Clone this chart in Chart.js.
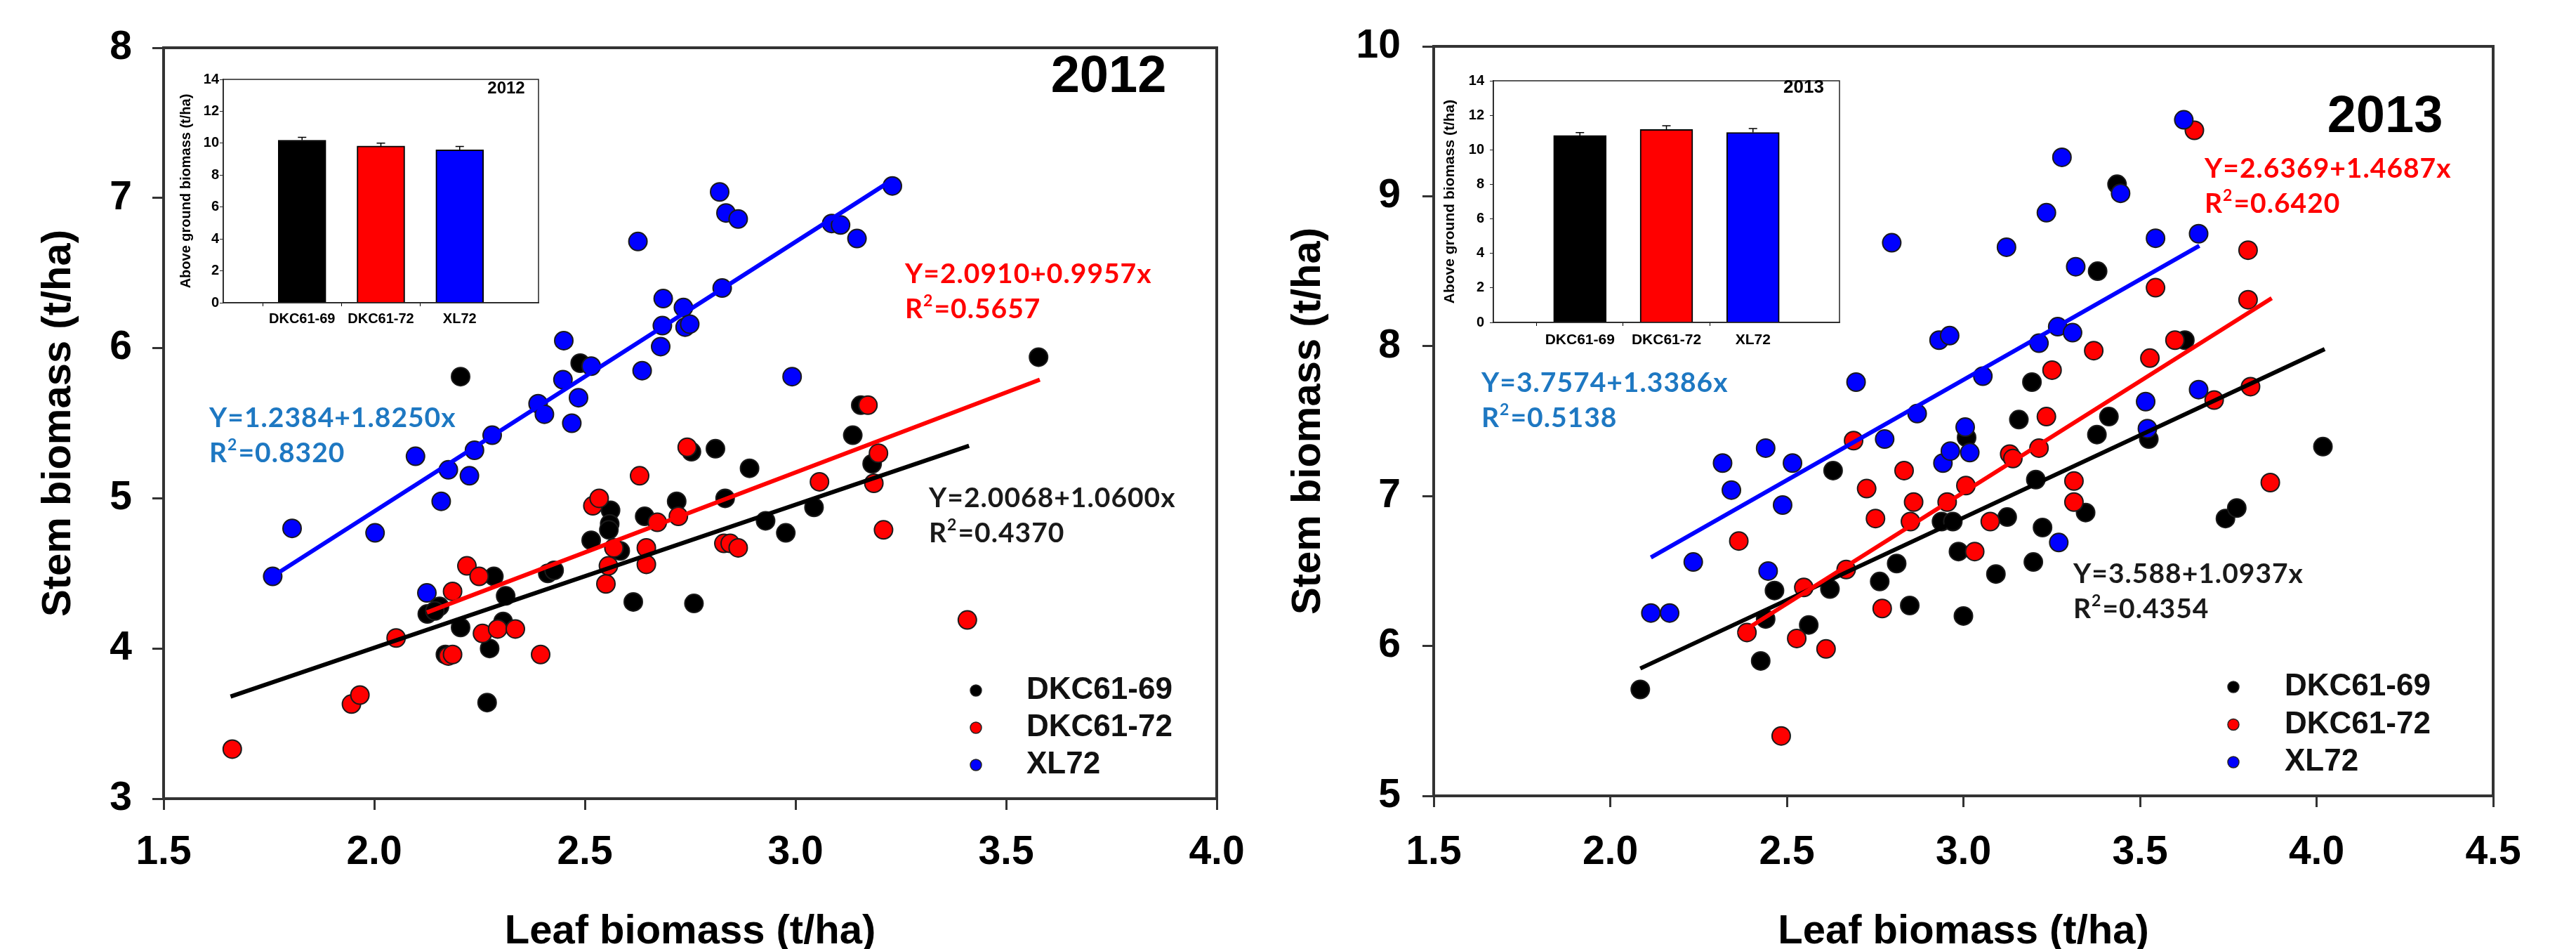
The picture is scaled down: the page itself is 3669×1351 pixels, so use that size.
<!DOCTYPE html>
<html lang="en">
<head>
  <meta charset="UTF-8">
  <title>Stem vs leaf biomass 2012 / 2013</title>
  <script src="https://cdn.jsdelivr.net/npm/chart.js@4"></script>
  <style>
    html, body { margin: 0; padding: 0; background: #fff; }
    #wrap { position: relative; width: 3669px; height: 1351px; background: #fff; overflow: hidden; }
    #wrap canvas { position: absolute; }
  </style>
</head>
<body>
<div id="wrap">
  <canvas id="main2012" width="1800" height="1351" style="left:0;top:0"></canvas>
  <canvas id="main2013" width="1869" height="1351" style="left:1800px;top:0"></canvas>
  <canvas id="inset2012" width="540" height="380" style="left:240px;top:100px"></canvas>
  <canvas id="inset2013" width="600" height="420" style="left:2040px;top:95px"></canvas>
</div>
<script>
// ---- data -------------------------------------------------------------
const cultivars = ['DKC61-69', 'DKC61-72', 'XL72'];

// 2012, leaf biomass (x) and stem biomass (y), t/ha
const leaf2012_69 = [3.577, 2.205, 2.489, 3.155, 3.136, 2.810, 2.753, 2.891, 3.182, 2.561, 2.559, 2.557, 2.642, 2.718, 2.833, 2.515, 2.929, 2.977, 3.044, 2.584, 2.412, 2.427, 2.284, 2.312, 2.615, 2.759, 2.126, 2.155, 2.144, 2.205, 2.306, 2.169, 2.274, 2.268];
const stem2012_69 = [5.94, 5.81, 5.90, 5.62, 5.42, 5.33, 5.31, 5.20, 5.23, 4.92, 4.83, 4.79, 4.88, 4.98, 5.00, 4.72, 4.85, 4.77, 4.94, 4.65, 4.50, 4.52, 4.48, 4.35, 4.31, 4.30, 4.23, 4.28, 4.25, 4.14, 4.18, 3.96, 4.00, 3.64];
const leaf2012_72 = [1.663, 1.946, 1.966, 2.052, 2.186, 2.220, 2.249, 2.257, 2.293, 2.335, 2.176, 2.186, 2.395, 2.519, 2.534, 2.550, 2.556, 2.569, 2.630, 2.646, 2.646, 2.672, 2.722, 2.743, 2.830, 2.845, 2.864, 3.057, 3.172, 3.197, 3.186, 3.209, 3.408];
const stem2012_72 = [3.33, 3.63, 3.69, 4.07, 4.38, 4.55, 4.48, 4.10, 4.13, 4.13, 3.95, 3.96, 3.96, 4.95, 5.00, 4.43, 4.55, 4.67, 5.15, 4.67, 4.56, 4.84, 4.88, 5.34, 4.70, 4.70, 4.67, 5.11, 5.62, 5.30, 5.10, 4.79, 4.19];
const leaf2012_xl = [1.759, 1.805, 2.002, 2.098, 2.125, 2.159, 2.176, 2.226, 2.238, 2.280, 2.389, 2.404, 2.450, 2.448, 2.469, 2.485, 2.515, 2.626, 2.636, 2.680, 2.684, 2.686, 2.734, 2.738, 2.749, 2.826, 2.820, 2.835, 2.864, 2.992, 3.086, 3.107, 3.146, 3.230];
const stem2012_xl = [4.48, 4.80, 4.77, 5.28, 4.37, 4.98, 5.19, 5.15, 5.32, 5.42, 5.63, 5.56, 6.05, 5.79, 5.50, 5.67, 5.88, 6.71, 5.85, 6.01, 6.15, 6.33, 6.27, 6.14, 6.16, 6.40, 7.04, 6.90, 6.86, 5.81, 6.83, 6.82, 6.73, 7.08];

// 2013
const leaf2013_69 = [2.085, 2.426, 2.440, 2.465, 2.562, 2.622, 2.631, 2.763, 2.811, 2.848, 2.938, 2.970, 2.986, 3.000, 3.009, 3.092, 3.124, 3.157, 3.194, 3.198, 3.205, 3.224, 3.346, 3.378, 3.380, 3.412, 3.435, 3.525, 3.627, 3.742, 3.774, 4.018];
const stem2013_69 = [5.71, 5.90, 6.18, 6.37, 6.14, 6.38, 7.17, 6.43, 6.55, 6.27, 6.83, 6.83, 6.63, 6.20, 7.39, 6.48, 6.86, 7.51, 7.76, 6.56, 7.11, 6.79, 6.89, 7.41, 8.50, 7.53, 9.08, 7.38, 8.04, 6.85, 6.92, 7.33];
const leaf2013_72 = [2.484, 2.364, 2.387, 2.528, 2.548, 2.611, 2.668, 2.689, 2.726, 2.751, 2.770, 2.832, 2.850, 2.859, 2.954, 3.007, 3.032, 3.076, 3.131, 3.140, 3.214, 3.235, 3.251, 3.313, 3.313, 3.369, 3.528, 3.544, 3.599, 3.654, 3.710, 3.806, 3.806, 3.813, 3.869];
const stem2013_72 = [5.40, 6.70, 6.09, 6.05, 6.39, 5.98, 6.51, 7.37, 7.05, 6.85, 6.25, 7.17, 6.83, 6.96, 6.96, 7.07, 6.63, 6.83, 7.28, 7.25, 7.32, 7.53, 7.84, 7.10, 6.96, 7.97, 7.92, 8.39, 8.04, 9.44, 7.64, 8.64, 8.31, 7.73, 7.09];
const leaf2013_xl = [2.115, 2.168, 2.235, 2.318, 2.343, 2.440, 2.447, 2.488, 2.516, 2.696, 2.777, 2.797, 2.869, 2.931, 2.961, 2.942, 2.963, 3.005, 3.018, 3.055, 3.122, 3.214, 3.235, 3.267, 3.279, 3.309, 3.318, 3.270, 3.445, 3.516, 3.521, 3.544, 3.624, 3.666, 3.666];
const stem2013_xl = [6.22, 6.22, 6.56, 7.22, 7.04, 7.32, 6.50, 6.94, 7.22, 7.76, 7.38, 8.69, 7.55, 8.04, 8.07, 7.22, 7.30, 7.46, 7.29, 7.80, 8.66, 8.02, 8.89, 8.13, 9.26, 8.09, 8.53, 6.69, 9.02, 7.63, 7.45, 8.72, 9.51, 8.75, 7.71];

// regression lines: end points as drawn in the figure (per cultivar)
const fitLeaf2012 = [[1.659, 3.412], [2.125, 3.580], [1.759, 3.230]];
const fitStem2012 = [[3.68, 5.35], [4.24, 5.79], [4.48, 7.12]];
const fitLeaf2013 = [[2.085, 4.023], [2.364, 3.873], [2.115, 3.668]];
const fitStem2013 = [[5.85, 7.98], [6.08, 8.32], [6.59, 8.67]];

const eq2012 = ['Y=2.0068+1.0600x', 'Y=2.0910+0.9957x', 'Y=1.2384+1.8250x'];
const r2_2012 = ['0.4370', '0.5657', '0.8320'];
const eq2013 = ['Y=3.588+1.0937x', 'Y=2.6369+1.4687x', 'Y=3.7574+1.3386x'];
const r2_2013 = ['0.4354', '0.6420', '0.5138'];

// inset: above ground biomass (t/ha), mean and upper error
const agb2012 = [10.19, 9.82, 9.58];
const agbErr2012 = [0.18, 0.19, 0.22];
const agb2013 = [10.83, 11.18, 11.01];
const agbErr2013 = [0.17, 0.22, 0.22];

// tick labels
const xTicks2012 = ['1.5', '2.0', '2.5', '3.0', '3.5', '4.0'];
const yTicks2012 = ['3', '4', '5', '6', '7', '8'];
const xTicks2013 = ['1.5', '2.0', '2.5', '3.0', '3.5', '4.0', '4.5'];
const yTicks2013 = ['5', '6', '7', '8', '9', '10'];
const insetTicks = ['0', '2', '4', '6', '8', '10', '12', '14'];

// ---- styling ----------------------------------------------------------
const SANS = '"Liberation Sans", Arial, sans-serif';
const EQF = 'Lato, "Liberation Sans", sans-serif';
const AXIS = '#333333';
const markColors = ['#000000', '#FF0000', '#0000FF'];
const eqColors = ['#1a1a1a', '#FF0000', '#1E78C2'];
const H = 1351;

Chart.defaults.font.family = SANS;
Chart.defaults.color = '#000';

const pts = (xs, ys) => xs.map((x, i) => ({x: x, y: ys[i]}));

// box around the plotting area
const framePlugin = {
  id: 'frame',
  afterDraw(chart, args, o) {
    const a = chart.chartArea, ctx = chart.ctx;
    ctx.save();
    ctx.strokeStyle = o.color;
    ctx.lineWidth = o.width;
    ctx.strokeRect(a.left, a.top, a.right - a.left, a.bottom - a.top);
    ctx.restore();
  }
};

function drawRich(ctx, parts, x, y, size) {
  let cx = x;
  parts.forEach(p => {
    const s = p.sup ? Math.round(size * 0.6) : size;
    ctx.font = 'bold ' + s + 'px ' + EQF;
    ctx.fillText(p.t, cx, p.sup ? y - size * 0.3 : y);
    cx += ctx.measureText(p.t).width + (p.sup ? 1 : 0);
  });
}

// equations, year tag and small legend
const notesPlugin = {
  id: 'notes',
  afterDraw(chart, args, o) {
    const ctx = chart.ctx;
    ctx.save();
    ctx.textBaseline = 'middle';
    // year
    ctx.textAlign = 'center';
    ctx.fillStyle = '#000';
    ctx.font = 'bold 74px ' + SANS;
    ctx.fillText(o.year.text, o.year.x, o.year.y);
    // equations
    ctx.textAlign = 'left';
    ctx.letterSpacing = '1px';
    o.eqPos.forEach((p, i) => {
      ctx.fillStyle = eqColors[i];
      drawRich(ctx, [{t: o.eqs[i]}], p[0], p[1], 39);
      drawRich(ctx, [{t: 'R'}, {t: '2', sup: true}, {t: '=' + o.r2[i]}], p[0], p[1] + 50, 39);
    });
    ctx.letterSpacing = '0px';
    // legend
    const L = o.legend;
    cultivars.forEach((name, i) => {
      const y = L.y + i * L.gap;
      ctx.beginPath();
      ctx.arc(L.x, y, 8, 0, Math.PI * 2);
      ctx.fillStyle = markColors[i];
      ctx.fill();
      ctx.lineWidth = 1.5;
      ctx.strokeStyle = '#222';
      ctx.stroke();
      ctx.fillStyle = '#111';
      ctx.font = 'bold 44px ' + SANS;
      ctx.fillText(name, L.textX, y);
    });
    ctx.restore();
  }
};

function mainChart(id, g) {
  const datasets = [];
  // fitted lines on top
  [2, 1, 0].forEach(i => {
    datasets.push({
      label: 'fit ' + cultivars[i],
      data: pts(g.fitX[i], g.fitY[i]),
      showLine: true, borderColor: markColors[i], borderWidth: 6,
      pointRadius: 0, fill: false, order: 0
    });
  });
  // blue on top, then red, then black
  [2, 1, 0].forEach((i, k) => {
    datasets.push({
      label: cultivars[i],
      data: pts(g.xs[i], g.ys[i]),
      backgroundColor: markColors[i], borderColor: '#1a1a1a',
      borderWidth: 2, pointRadius: 13, order: k + 1
    });
  });
  const xv = g.xTicks.map(Number), yv = g.yTicks.map(Number);
  return new Chart(document.getElementById(id), {
    type: 'scatter',
    data: {datasets: datasets},
    options: {
      responsive: false, animation: false, events: [],
      layout: {padding: {top: g.area.top, right: g.width - g.area.right, left: 0, bottom: 0}},
      plugins: {
        legend: {display: false}, tooltip: {enabled: false},
        frame: {color: AXIS, width: 4},
        notes: g.notes
      },
      scales: {
        x: {
          type: 'linear', min: xv[0], max: xv[xv.length - 1],
          afterBuildTicks: s => { s.ticks = xv.map(v => ({value: v})); },
          ticks: {
            callback: (v, i) => g.xTicks[i],
            font: {size: 57, weight: 'bold'}, color: '#000', padding: g.xPad,
            maxRotation: 0, autoSkip: false
          },
          grid: {drawOnChartArea: false, tickLength: 16, tickWidth: 3, tickColor: AXIS},
          border: {color: AXIS, width: 4},
          title: {
            display: true, text: 'Leaf biomass (t/ha)', color: '#000',
            font: {size: 58, weight: 'bold', lineHeight: 1}, padding: {top: 0, bottom: -5}
          },
          afterFit: s => { s.height = H - g.area.bottom; }
        },
        y: {
          type: 'linear', min: yv[0], max: yv[yv.length - 1],
          afterBuildTicks: s => { s.ticks = yv.map(v => ({value: v})); },
          ticks: {
            callback: (v, i) => g.yTicks[i],
            font: {size: 57, weight: 'bold'}, color: '#000', padding: g.yPad
          },
          grid: {drawOnChartArea: false, tickLength: 16, tickWidth: 3, tickColor: AXIS},
          border: {color: AXIS, width: 4},
          title: {
            display: true, text: 'Stem biomass (t/ha)', color: '#000',
            font: {size: 58, weight: 'bold', lineHeight: 1}, padding: {top: g.yTitlePad, bottom: 0}
          },
          afterFit: s => { s.width = g.area.left; }
        }
      }
    },
    plugins: [framePlugin, notesPlugin]
  });
}

// error bars for the inset
const errPlugin = {
  id: 'errbars',
  afterDatasetsDraw(chart, args, o) {
    const meta = chart.getDatasetMeta(0), ys = chart.scales.y, ctx = chart.ctx;
    const vals = chart.data.datasets[0].data;
    ctx.save();
    ctx.strokeStyle = '#000';
    ctx.lineWidth = 1.5;
    meta.data.forEach((bar, i) => {
      const v = vals[i];
      if (v == null) return;
      const top = ys.getPixelForValue(v + o.errors[i - 1]);
      ctx.beginPath();
      ctx.moveTo(bar.x, bar.y);
      ctx.lineTo(bar.x, top);
      ctx.moveTo(bar.x - o.cap, top);
      ctx.lineTo(bar.x + o.cap, top);
      ctx.stroke();
    });
    ctx.restore();
  }
};

const tagPlugin = {
  id: 'tag',
  afterDraw(chart, args, o) {
    const ctx = chart.ctx;
    ctx.save();
    ctx.font = 'bold ' + o.size + 'px ' + SANS;
    ctx.fillStyle = '#000';
    ctx.textAlign = 'center';
    ctx.textBaseline = 'middle';
    ctx.fillText(o.text, o.x, o.y);
    ctx.restore();
  }
};

function insetChart(id, g) {
  const tv = insetTicks.map(Number);
  const hide = c => (c.index === 0 || c.index === 4) ? 'rgba(0,0,0,0)' : '#000';
  return new Chart(document.getElementById(id), {
    type: 'bar',
    data: {
      labels: [''].concat(cultivars, ['']),
      datasets: [{
        data: [null].concat(g.values, [null]),
        backgroundColor: ['#fff'].concat(markColors, ['#fff']),
        borderColor: '#000', borderWidth: 2, barThickness: g.barW
      }]
    },
    options: {
      responsive: false, animation: false, events: [],
      layout: {padding: {top: g.area.top, right: g.w - g.area.right, left: 0, bottom: 0}},
      plugins: {
        legend: {display: false}, tooltip: {enabled: false},
        frame: {color: '#222', width: 1.5},
        errbars: {errors: g.errors, cap: 6},
        tag: g.tag
      },
      scales: {
        x: {
          offset: false,
          ticks: {font: {size: g.catFont, weight: 'bold'}, color: '#000', padding: g.catPad, maxRotation: 0, autoSkip: false},
          grid: {drawOnChartArea: false, tickLength: 5, color: hide, tickColor: hide},
          border: {color: '#222', width: 1.5},
          afterFit: s => { s.height = g.h - g.area.bottom; }
        },
        y: {
          min: 0, max: 14,
          afterBuildTicks: s => { s.ticks = tv.map(v => ({value: v})); },
          ticks: {callback: (v, i) => insetTicks[i], font: {size: g.tickFont, weight: 'bold'}, color: '#000', padding: g.tickPad},
          grid: {drawOnChartArea: false, tickLength: 5, tickColor: '#222'},
          border: {color: '#222', width: 1.5},
          title: {
            display: true, text: 'Above ground biomass (t/ha)', color: '#000',
            font: {size: g.titleFont, weight: 'bold', lineHeight: 1}, padding: {top: g.titlePad, bottom: 0}
          },
          afterFit: s => { s.width = g.area.left; }
        }
      }
    },
    plugins: [framePlugin, errPlugin, tagPlugin]
  });
}

mainChart('main2012', {
  width: 1800, area: {left: 233, top: 68, right: 1733, bottom: 1137},
  xs: [leaf2012_69, leaf2012_72, leaf2012_xl], ys: [stem2012_69, stem2012_72, stem2012_xl],
  fitX: fitLeaf2012, fitY: fitStem2012,
  xTicks: xTicks2012, yTicks: yTicks2012, xPad: 27, yPad: 29, yTitlePad: 55,
  notes: {
    year: {text: '2012', x: 1579, y: 111},
    eqs: eq2012, r2: r2_2012,
    eqPos: [[1323, 709], [1289, 390], [298, 595]],
    legend: {x: 1390, textX: 1462, y: 983, gap: 53}
  }
});

mainChart('main2013', {
  width: 1869, area: {left: 242, top: 66, right: 1751, bottom: 1133},
  xs: [leaf2013_69, leaf2013_72, leaf2013_xl], ys: [stem2013_69, stem2013_72, stem2013_xl],
  fitX: fitLeaf2013, fitY: fitStem2013,
  xTicks: xTicks2013, yTicks: yTicks2013, xPad: 31, yPad: 31, yTitlePad: 35,
  notes: {
    year: {text: '2013', x: 1597, y: 168},
    eqs: eq2013, r2: r2_2013,
    eqPos: [[1153, 817], [1340, 240], [310, 545]],
    legend: {x: 1381, textX: 1454, y: 978, gap: 53.5}
  }
});

insetChart('inset2012', {
  w: 540, h: 380, area: {left: 78, top: 12, right: 527, bottom: 331},
  values: agb2012, errors: agbErr2012, barW: 68,
  catFont: 20, catPad: 6, tickFont: 20, tickPad: 1, titleFont: 20, titlePad: 15,
  tag: {text: '2012', x: 481, y: 26, size: 24}
});

insetChart('inset2013', {
  w: 600, h: 420, area: {left: 87, top: 14, right: 580, bottom: 364},
  values: agb2013, errors: agbErr2013, barW: 75,
  catFont: 21, catPad: 8, tickFont: 20, tickPad: 8, titleFont: 21, titlePad: 15,
  tag: {text: '2013', x: 529, y: 30, size: 26}
});
</script>
</body>
</html>
